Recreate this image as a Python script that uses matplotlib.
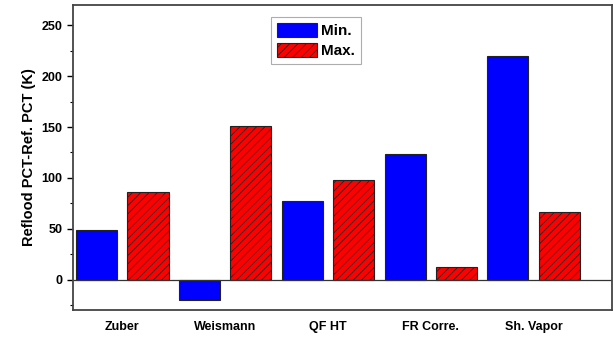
import numpy as np
import matplotlib
matplotlib.use('Agg')
import matplotlib.pyplot as plt

#Data.
categories = ['Zuber', 'Weismann', 'QF HT', 'FR Corre.', 'Sh. Vapor']
min_values = [49, -20, 77, 123, 220]
max_values = [86, 151, 98, 12, 66]

plt.rcParams['font.family'] = ['Liberation Sans', 'DejaVu Sans']
plt.rcParams['font.weight'] = 'bold'
plt.rcParams['hatch.linewidth'] = 0.6

fig = plt.figure(figsize=(6.13, 3.37), dpi=100)
ax = fig.add_axes([0.119, 0.080, 0.879, 0.905])

x = np.arange(len(categories))
ax.bar(x - 0.25, min_values, width=0.4, color='#0000ff', edgecolor='#222222', linewidth=0.8, label='Min.')
ax.bar(x + 0.25, max_values, width=0.4, color='#ff0000', edgecolor='#222222', linewidth=0.8, hatch='////', label='Max.')
ax.axhline(0, color='#333333', linewidth=0.9)

ax.set_xlim(-0.48, 4.76)
ax.set_ylim(-30, 270)
ax.set_yticks([0, 50, 100, 150, 200, 250])
ax.set_yticks(np.arange(-25, 270, 25), minor=True)
ax.set_xticks(x)
ax.set_xticklabels(categories, fontsize=9, fontweight='bold')
ax.tick_params(axis='x', length=0, pad=8)
ax.tick_params(axis='y', labelsize=9, length=4, width=1, direction='out')
ax.tick_params(axis='y', which='minor', length=2.5, width=0.8)
ax.set_ylabel('Reflood PCT-Ref. PCT (K)', fontsize=10.5, fontweight='bold')

for s in ax.spines.values():
    s.set_linewidth(1.3)
    s.set_color('#444444')

leg = ax.legend(loc='upper center', bbox_to_anchor=(0.451, 0.985), fontsize=11,
                frameon=True, fancybox=False, handlelength=2.6, handleheight=1.0,
                borderpad=0.4, labelspacing=0.3, handletextpad=0.3)
leg.get_frame().set_edgecolor('#999999')
leg.get_frame().set_linewidth(0.8)

plt.savefig('out.png', dpi=100)
